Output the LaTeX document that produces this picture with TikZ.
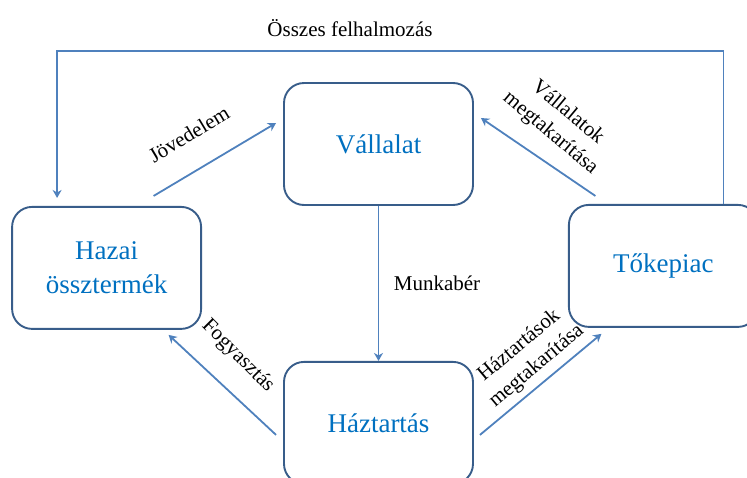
\documentclass[tikz,border=0pt]{standalone}
\usepackage{fontspec}
\setmainfont{Liberation Serif}
\usepackage{xcolor}
\usetikzlibrary{arrows.meta,positioning}

\definecolor{boxline}{RGB}{56,93,138}
\definecolor{flowline}{RGB}{79,129,189}
\definecolor{boxtext}{RGB}{0,112,192}

\begin{document}
\begin{tikzpicture}[
  x=1pt, y=-1pt,
  sector/.style={draw=boxline, line width=1.9pt, rounded corners=20pt,
      minimum width=189pt, minimum height=122pt, align=center,
      text=boxtext, font=\fontsize{27}{34}\selectfont},
  lbl/.style={align=center, font=\fontsize{21}{27}\selectfont},
  flow/.style={draw=flowline, line width=1.8pt,
      -{Stealth[length=8pt,width=9pt,inset=2.5pt]}}
]
\useasboundingbox (0,0) rectangle (747,477);
\clip (0,0) rectangle (747,477);

\node[sector] (vall) at (378.5,144) {Vállalat};
\node[sector, below left=0pt and 81pt of vall] (hazai)
  {Hazai\\össztermék};
\node[sector, below right=-2pt and 94pt of vall] (tok) {Tőkepiac};
\node[sector, below=155pt of vall] (haz) {Háztartás};

% flows
\draw[flow] ([xshift=47pt,yshift=10pt]hazai.north)
  -- ([xshift=-7pt,yshift=21pt]vall.west);
\draw[flow] ([xshift=-68pt,yshift=8pt]tok.north)
  -- ([xshift=7pt,yshift=26pt]vall.east);
\draw[flow] (vall.south) -- (haz.north);
\draw[flow] ([xshift=-7pt,yshift=-12pt]haz.west)
  -- ([xshift=62pt,yshift=-5pt]hazai.south);
\draw[flow] ([xshift=6pt,yshift=-12pt]haz.east)
  -- ([xshift=-62pt,yshift=-6pt]tok.south);
\draw[flow] ([xshift=60pt]tok.north) -- ++(0,-153)
  -| ([xshift=-49.5pt,yshift=8pt]hazai.north);

% labels
\node[lbl] (felh) at (350,28) {Összes felhalmozás};
\node[lbl, rotate=31] (jov) at (189,134) {Jövedelem};
\node[lbl, rotate=-40] (vmeg) at (559,123)
  {Vállalatok\\megtakarítása};
\node[lbl] (munka) at (437,283) {Munkabér};
\node[lbl, rotate=-45] (fogy) at (238,356) {Fogyasztás};
\node[lbl, rotate=40] (hmeg) at (528,356)
  {Háztartások\\megtakarítása};
\end{tikzpicture}
\end{document}
